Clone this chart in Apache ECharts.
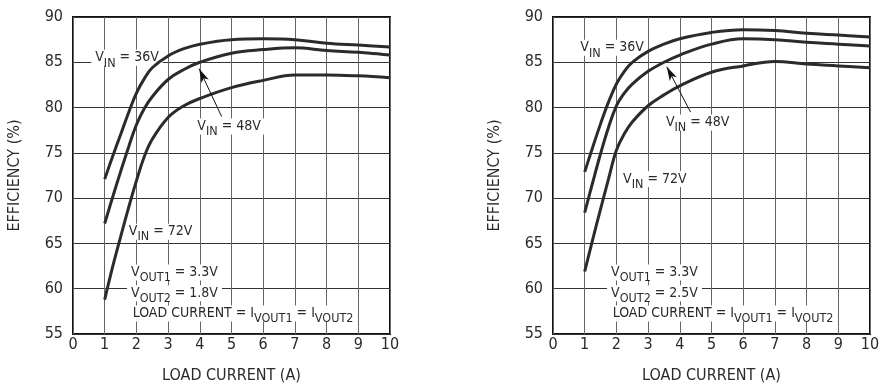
<!DOCTYPE html>
<html>
<head>
<meta charset="utf-8">
<script src="https://cdn.jsdelivr.net/npm/echarts@6/dist/echarts.min.js"></script>
<style>
html,body{margin:0;padding:0;background:#fff;}
#c{width:885px;height:391px;}
</style>
</head>
<body>
<div id="c"></div>
<script>
// Load current (A) sample positions shared by every curve
const loadCurrent = [1, 1.25, 1.5, 1.75, 2, 2.25, 2.5, 3, 3.5, 4, 5, 6, 7, 8, 9, 10];

// Left chart: VOUT1 = 3.3V, VOUT2 = 1.8V
const leftVin36 = [72.1, 74.6, 77.0, 79.4, 81.6, 83.2, 84.4, 85.7, 86.5, 87.0, 87.5, 87.6, 87.5, 87.1, 86.9, 86.7];
const leftVin48 = [67.2, 70.1, 72.9, 75.6, 78.1, 79.9, 81.2, 83.1, 84.2, 85.0, 86.0, 86.4, 86.6, 86.3, 86.1, 85.8];
const leftVin72 = [58.8, 62.4, 65.7, 68.9, 71.9, 74.6, 76.5, 78.9, 80.2, 81.0, 82.2, 83.0, 83.6, 83.6, 83.5, 83.3];

// Right chart: VOUT1 = 3.3V, VOUT2 = 2.5V
const rightVin36 = [72.9, 75.6, 78.2, 80.6, 82.6, 84.0, 85.0, 86.2, 87.0, 87.6, 88.3, 88.6, 88.5, 88.2, 88.0, 87.8];
const rightVin48 = [68.4, 71.7, 74.9, 77.8, 80.2, 81.6, 82.6, 84.0, 85.0, 85.8, 87.0, 87.6, 87.5, 87.2, 87.0, 86.8];
const rightVin72 = [61.9, 65.4, 68.8, 72.1, 75.3, 77.1, 78.4, 80.2, 81.4, 82.4, 83.9, 84.6, 85.1, 84.8, 84.6, 84.4];

// Axis ticks
const xTicks = [0, 10, 1];   // min, max, interval
const yTicks = [55, 90, 5];

// Annotation texts and anchors (data coordinates: left edge of box, vertical centre)
const leftNotes = [
  {t: '{m|V}{s|IN}{m| = 36V}', at: [0.56, 85.5]},
  {t: '{m|V}{s|IN}{m| = 48V}', at: [3.78, 77.9]},
  {t: '{m|V}{s|IN}{m| = 72V}', at: [1.62, 66.3]},
  {t: '{m|V}{s|OUT1}{m| = 3.3V}', at: [1.69, 61.8]},
  {t: '{m|V}{s|OUT2}{m| = 1.8V}', at: [1.69, 59.5]},
  {t: '{m|LOAD CURRENT = I}{s|VOUT1}{m| = I}{s|VOUT2}', at: [1.74, 57.25]}
];
const rightNotes = [
  {t: '{m|V}{s|IN}{m| = 36V}', at: [0.72, 86.6]},
  {t: '{m|V}{s|IN}{m| = 48V}', at: [3.42, 78.35]},
  {t: '{m|V}{s|IN}{m| = 72V}', at: [2.07, 72.1]},
  {t: '{m|V}{s|OUT1}{m| = 3.3V}', at: [1.69, 61.8]},
  {t: '{m|V}{s|OUT2}{m| = 2.5V}', at: [1.69, 59.5]},
  {t: '{m|LOAD CURRENT = I}{s|VOUT1}{m| = I}{s|VOUT2}', at: [1.74, 57.25]}
];
// Arrows (tail -> tip) pointing at the 48V curve
const leftArrow = [[4.69, 79.0], [3.98, 84.3]];
const rightArrow = [[4.34, 79.5], [3.59, 84.5]];

const FONT = "'Liberation Sans Narrow', 'DejaVu Sans Condensed', 'Roboto', sans-serif";
const TXT = '#2a2a2a';
const LINE = '#2b2b2b';

const rich = {
  m: {fontSize: 14, lineHeight: 15, verticalAlign: 'top', fontFamily: FONT, color: TXT},
  s: {fontSize: 12.5, lineHeight: 13, padding: [6, 0, 0, 0], verticalAlign: 'top', fontFamily: FONT, color: TXT}
};

function pairs(arr) { return loadCurrent.map((x, i) => [x, arr[i]]); }

function mk(notes) {
  return {
    symbol: 'circle',
    symbolSize: 1,
    silent: true,
    animation: false,
    z: 2,
    itemStyle: {color: 'rgba(0,0,0,0)'},
    label: {
      show: true,
      position: 'right',
      distance: 0,
      backgroundColor: '#fff',
      padding: [1, 4, 0, 4],
      rich: rich
    },
    data: notes.map(n => ({coord: n.at, value: 0, label: {show: true, formatter: n.t}}))
  };
}
function arrow(a) {
  return {
    silent: true,
    animation: false,
    z: 4,
    symbol: ['none', 'arrow'],
    symbolSize: [6, 14],
    label: {show: false},
    lineStyle: {color: '#111', width: 1, type: 'solid'},
    data: [[{coord: a[0]}, {coord: a[1]}]]
  };
}

const grids = [
  {left: 73, top: 17, width: 317, height: 317, show: true, borderColor: '#111', borderWidth: 2, backgroundColor: 'transparent'},
  {left: 553, top: 17, width: 317, height: 317, show: true, borderColor: '#111', borderWidth: 2, backgroundColor: 'transparent'}
];

function xAx(i) {
  return {
    gridIndex: i, type: 'value', min: xTicks[0], max: xTicks[1], interval: xTicks[2],
    name: 'LOAD CURRENT (A)', nameLocation: 'middle', nameGap: 34,
    nameTextStyle: {fontSize: 16, fontFamily: FONT, color: TXT},
    axisLine: {show: false}, axisTick: {show: false},
    axisLabel: {fontSize: 16, fontFamily: FONT, color: TXT, margin: 3},
    splitLine: {show: true, lineStyle: {color: '#666', width: 1}}
  };
}
function yAx(i) {
  return {
    gridIndex: i, type: 'value', min: yTicks[0], max: yTicks[1], interval: yTicks[2],
    name: 'EFFICIENCY (%)', nameLocation: 'middle', nameGap: 50,
    nameTextStyle: {fontSize: 16, fontFamily: FONT, color: TXT},
    axisLine: {show: false}, axisTick: {show: false},
    axisLabel: {fontSize: 16, fontFamily: FONT, color: TXT, margin: 10},
    splitLine: {show: true, lineStyle: {color: '#333', width: 1}}
  };
}
function curve(i, arr, extra) {
  return Object.assign({
    type: 'line', xAxisIndex: i, yAxisIndex: i, data: pairs(arr),
    showSymbol: false, smooth: 0.4,
    lineStyle: {color: LINE, width: 3}, itemStyle: {color: LINE},
    animation: false, silent: true, z: 3
  }, extra || {});
}

const chart = echarts.init(document.getElementById('c'), null, {renderer: 'canvas'});
chart.setOption({
  backgroundColor: '#fff',
  animation: false,
  grid: grids,
  xAxis: [xAx(0), xAx(1)],
  yAxis: [yAx(0), yAx(1)],
  series: [
    curve(0, leftVin36, {markPoint: mk(leftNotes), markLine: arrow(leftArrow)}),
    curve(0, leftVin48),
    curve(0, leftVin72),
    curve(1, rightVin36, {markPoint: mk(rightNotes), markLine: arrow(rightArrow)}),
    curve(1, rightVin48),
    curve(1, rightVin72)
  ]
});
</script>
</body>
</html>
